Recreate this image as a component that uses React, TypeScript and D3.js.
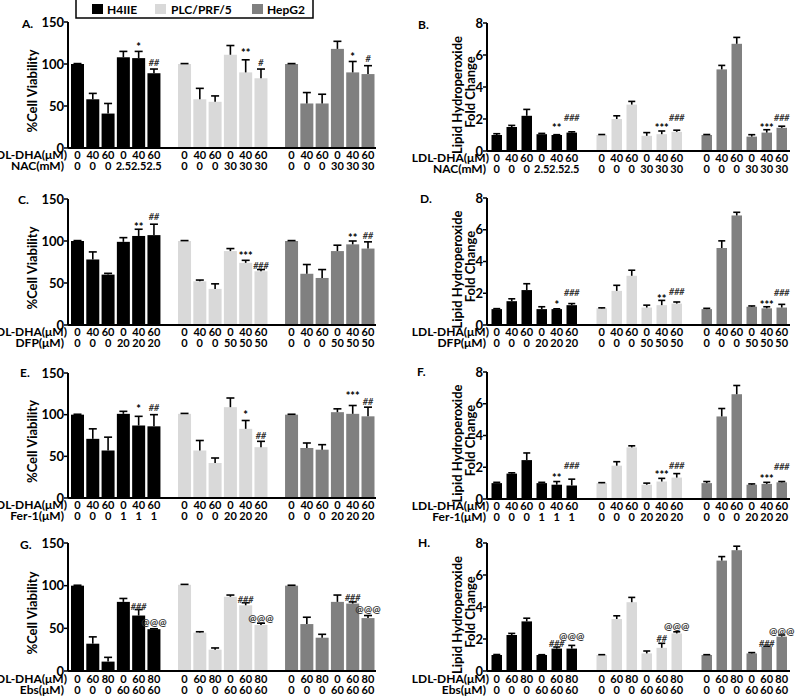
import React from "react";
import * as d3 from "d3";

// ---------- data ----------
const cellLines = ["H4IIE", "PLC/PRF/5", "HepG2"];
const cellColors = ["#000000", "#d9d9d9", "#808080"];
const viabTicks = [0, 50, 100, 150];
const lipidTicks = [0, 2, 4, 6, 8];

const dha4060 = ["0", "40", "60", "0", "40", "60", "0", "40", "60", "0", "40", "60", "0", "40", "60", "0", "40", "60"];
const dha6080 = ["0", "60", "80", "0", "60", "80", "0", "60", "80", "0", "60", "80", "0", "60", "80", "0", "60", "80"];
const nacLabels = ["0", "0", "0", "2.5", "2.5", "2.5", "0", "0", "0", "30", "30", "30", "0", "0", "0", "30", "30", "30"];
const dfpLabels = ["0", "0", "0", "20", "20", "20", "0", "0", "0", "50", "50", "50", "0", "0", "0", "50", "50", "50"];
const ferLabels = ["0", "0", "0", "1", "1", "1", "0", "0", "0", "20", "20", "20", "0", "0", "0", "20", "20", "20"];
const ebsLabels = ["0", "0", "0", "60", "60", "60", "0", "0", "0", "60", "60", "60", "0", "0", "0", "60", "60", "60"];

// Panel A: %Cell viability, NAC
const aMean = [100, 58, 41, 108, 107, 89, 100, 58, 55, 111, 90, 83, 100, 53, 53, 118, 90, 88];
const aErr = [0.5, 7, 12, 7, 8, 5, 0.5, 13, 7, 11, 15, 11, 0.5, 13, 11, 9, 13, 10];
const aNotes: [number, string, number][] = [[4, "*", 124], [5, "##", 101], [10, "**", 116], [11, "#", 102], [16, "*", 112], [17, "#", 106]];
// Panel B: lipid hydroperoxide, NAC
const bMean = [1.0, 1.5, 2.2, 1.05, 1.0, 1.15, 1.0, 2.0, 2.9, 0.95, 1.05, 1.2, 1.0, 5.1, 6.7, 0.9, 1.15, 1.45];
const bErr = [0.08, 0.1, 0.4, 0.05, 0.02, 0.05, 0.03, 0.2, 0.2, 0.2, 0.2, 0.1, 0.03, 0.25, 0.4, 0.12, 0.18, 0.1];
const bNotes: [number, string, number][] = [[4, "**", 1.6], [5, "###", 2.05], [10, "***", 1.6], [11, "###", 2.05], [16, "***", 1.6], [17, "###", 2.05]];
// Panel C: viability, DFP
const cMean = [100, 78, 60, 99, 106, 107, 100, 52, 43, 88, 74, 64, 100, 61, 56, 88, 96, 91];
const cErr = [0.5, 9, 1.5, 5, 8, 13, 0.5, 1.5, 6, 3, 3, 2, 0.5, 11, 10, 7, 4, 8];
const cNotes: [number, string, number][] = [[4, "**", 120], [5, "##", 129], [10, "***", 85], [11, "###", 71], [16, "**", 107], [17, "##", 106]];
// Panel D: lipid, DFP
const dMean = [1.0, 1.5, 2.2, 1.0, 1.0, 1.25, 1.05, 2.15, 3.1, 1.1, 1.25, 1.35, 1.0, 4.85, 6.9, 1.15, 1.05, 1.1];
const dErr = [0.03, 0.15, 0.4, 0.15, 0.02, 0.1, 0.03, 0.35, 0.35, 0.15, 0.3, 0.1, 0.05, 0.45, 0.2, 0.05, 0.1, 0.2];
const dNotes: [number, string, number][] = [[4, "*", 1.45], [5, "###", 2.0], [10, "**", 1.8], [11, "###", 2.1], [16, "***", 1.45], [17, "###", 2.0]];
// Panel E: viability, Fer-1
const eMean = [100, 71, 57, 101, 87, 86, 101, 57, 42, 109, 83, 61, 100, 60, 58, 103, 101, 98];
const eErr = [0.5, 12, 16, 3, 11, 14, 0.5, 12, 6, 11, 10, 7, 0.5, 6, 6, 4, 10, 11];
const eNotes: [number, string, number][] = [[4, "*", 110], [5, "##", 108], [10, "*", 103], [11, "##", 75], [16, "***", 126], [17, "##", 116]];
// Panel F: lipid, Fer-1
const fMean = [1.0, 1.6, 2.45, 1.0, 0.9, 0.85, 1.0, 2.1, 3.25, 0.9, 1.1, 1.35, 1.0, 5.2, 6.6, 0.9, 0.95, 1.05];
const fErr = [0.05, 0.05, 0.45, 0.05, 0.2, 0.4, 0.03, 0.25, 0.1, 0.1, 0.2, 0.25, 0.1, 0.5, 0.55, 0.05, 0.1, 0.05];
const fNotes: [number, string, number][] = [[4, "**", 1.5], [5, "###", 2.07], [10, "***", 1.72], [11, "###", 2.07], [16, "***", 1.45], [17, "###", 2.0]];
// Panel G: viability, Ebs
const gMean = [100, 32, 11, 81, 65, 49, 101, 45, 25, 87, 77, 54, 100, 55, 39, 81, 79, 62];
const gErr = [0.5, 8, 5, 4, 7, 0.5, 0.5, 1, 2, 2, 3, 2, 0.5, 8, 4, 8, 2, 3];
const gNotes: [number, string, number][] = [[4, "###", 75], [5, "@@@", 57], [10, "###", 84], [11, "@@@", 62], [16, "###", 86], [17, "@@@", 72]];
// Panel H: lipid, Ebs
const hMean = [1.0, 2.25, 3.1, 1.0, 1.4, 1.4, 1.0, 3.25, 4.3, 1.1, 1.45, 2.35, 1.0, 6.9, 7.55, 1.1, 1.5, 2.15];
const hErr = [0.03, 0.1, 0.2, 0.02, 0.1, 0.2, 0.02, 0.2, 0.3, 0.15, 0.28, 0.1, 0.02, 0.25, 0.25, 0.05, 0.05, 0.1];
const hNotes: [number, string, number][] = [[4, "###", 1.68], [5, "@@@", 2.15], [10, "##", 2.0], [11, "@@@", 2.77], [16, "###", 1.68], [17, "@@@", 2.46]];

// ---------- layout ----------
const FONT = "Lato, 'Liberation Sans', sans-serif";
const MU = "\u03bc";

type PanelCfg = {
  letter: string; kind: "viab" | "lipid"; side: "L" | "R";
  y0: number; yTop: number; mean: number[]; err: number[]; notes: [number, string, number][];
  row1: string[]; row2: string[]; row2Title: string; letterX: number; letterY: number; rowShift: number;
};

const panels: PanelCfg[] = [
  { letter: "A.", kind: "viab", side: "L", y0: 148, yTop: 22, mean: aMean, err: aErr, notes: aNotes, row1: dha4060, row2: nacLabels, row2Title: "NAC(mM)", letterX: 22, letterY: 28, rowShift: 0 },
  { letter: "B.", kind: "lipid", side: "R", y0: 151, yTop: 23, mean: bMean, err: bErr, notes: bNotes, row1: dha4060, row2: nacLabels, row2Title: "NAC(mM)", letterX: 418, letterY: 29, rowShift: 0 },
  { letter: "C.", kind: "viab", side: "L", y0: 325, yTop: 199, mean: cMean, err: cErr, notes: cNotes, row1: dha4060, row2: dfpLabels, row2Title: `DFP(${MU}M)`, letterX: 18, letterY: 204, rowShift: 0 },
  { letter: "D.", kind: "lipid", side: "R", y0: 325, yTop: 198, mean: dMean, err: dErr, notes: dNotes, row1: dha4060, row2: dfpLabels, row2Title: `DFP(${MU}M)`, letterX: 420, letterY: 203, rowShift: 0 },
  { letter: "E.", kind: "viab", side: "L", y0: 498, yTop: 373, mean: eMean, err: eErr, notes: eNotes, row1: dha4060, row2: ferLabels, row2Title: `Fer-1(${MU}M)`, letterX: 20, letterY: 377, rowShift: 0 },
  { letter: "F.", kind: "lipid", side: "R", y0: 499, yTop: 372, mean: fMean, err: fErr, notes: fNotes, row1: dha4060, row2: ferLabels, row2Title: `Fer-1(${MU}M)`, letterX: 417, letterY: 376, rowShift: 0 },
  { letter: "G.", kind: "viab", side: "L", y0: 671, yTop: 543, mean: gMean, err: gErr, notes: gNotes, row1: dha6080, row2: ebsLabels, row2Title: `Ebs(${MU}M)`, letterX: 20, letterY: 549, rowShift: 1 },
  { letter: "H.", kind: "lipid", side: "R", y0: 671, yTop: 543, mean: hMean, err: hErr, notes: hNotes, row1: dha6080, row2: ebsLabels, row2Title: `Ebs(${MU}M)`, letterX: 418, letterY: 547, rowShift: 1 },
];

const slotOf = (i: number) => i + Math.floor(i / 6);

function Panel({ p }: { p: PanelCfg }) {
  const L = p.side === "L";
  const axisX = L ? 68 : 487;
  const xEnd = L ? 376 : 790;
  const x = d3.scaleBand<number>().domain(d3.range(20)).range(L ? [71, 374.5] : [491.5, 787]).paddingInner(L ? 0.15 : 0.3).paddingOuter(0);
  const y = d3.scaleLinear().domain(p.kind === "viab" ? [0, 150] : [0, 8]).range([p.y0, p.yTop]);
  const ticks = p.kind === "viab" ? viabTicks : lipidTicks;
  const bw = x.bandwidth();
  const cap = L ? 8 : 7;
  const labelEnd = L ? 67 : 489;
  const midY = (p.y0 + p.yTop) / 2;
  const r1y = p.y0 + 11 + p.rowShift;
  const r2y = p.y0 + 22 + p.rowShift;
  return (
    <g fontFamily={FONT} fontWeight="bold">
      <text x={p.letterX} y={p.letterY} fontSize={12}>{p.letter}</text>
      {p.mean.map((m, i) => {
        const xx = x(slotOf(i))!;
        return <rect key={"b" + i} x={xx} width={bw} y={y(m)} height={p.y0 - y(m)} fill={cellColors[Math.floor(i / 6)]} />;
      })}
      {p.mean.map((m, i) => {
        const cx = x(slotOf(i))! + bw / 2;
        const top = y(m + p.err[i]);
        return (
          <g key={"e" + i} stroke="#000" strokeWidth={1.6}>
            <line x1={cx} x2={cx} y1={y(m)} y2={top} />
            <line x1={cx - cap / 2} x2={cx + cap / 2} y1={top} y2={top} />
          </g>
        );
      })}
      {p.notes.map(([i, t, v], k) => {
        const cx = x(slotOf(i))! + bw / 2;
        const star = t.startsWith("*");
        const fs = star ? 11 : t.startsWith("@") ? 10 : 9;
        return (
          <text key={"n" + k} x={cx} y={y(v)} dy={star ? "0.62em" : "0.36em"} fontSize={fs} textAnchor="middle" fill={star ? "#000" : "#333"} fontStyle={t.startsWith("#") ? "italic" : "normal"}>{t}</text>
        );
      })}
      <line x1={axisX} x2={axisX} y1={p.yTop} y2={p.y0} stroke="#000" strokeWidth={2} />
      <line x1={axisX} x2={xEnd} y1={p.y0} y2={p.y0} stroke="#000" strokeWidth={2} />
      {ticks.map((t) => (
        <g key={"t" + t}>
          <line x1={axisX - 4} x2={axisX} y1={y(t)} y2={y(t)} stroke="#000" strokeWidth={1.5} />
          <text x={axisX - 4} y={y(t)} dy="0.36em" textAnchor="end" fontSize={13}>{t}</text>
        </g>
      ))}
      {p.kind === "viab" ? (
        <text transform={`translate(32,${midY + 6}) rotate(-90)`} textAnchor="middle" dy="0.36em" fontSize={13}>%Cell Viability</text>
      ) : (
        <g>
          <text transform={`translate(457,${midY + 8}) rotate(-90)`} textAnchor="middle" dy="0.36em" fontSize={13}>Lipid Hydroperoxide</text>
          <text transform={`translate(470,${midY + 5}) rotate(-90)`} textAnchor="middle" dy="0.36em" fontSize={13}>Fold Change</text>
        </g>
      )}
      <text x={labelEnd} y={r1y} textAnchor="end" fontSize={12}>{`LDL-DHA(${MU}M)`}</text>
      <text x={labelEnd - 3} y={r2y} textAnchor="end" fontSize={12}>{p.row2Title}</text>
      {p.row1.map((s, i) => (
        <text key={"r1" + i} x={x(slotOf(i))! + bw / 2} y={r1y} textAnchor="middle" fontSize={11}>{s}</text>
      ))}
      {p.row2.map((s, i) => (
        <text key={"r2" + i} x={x(slotOf(i))! + bw / 2} y={r2y} textAnchor="middle" fontSize={11}>{s}</text>
      ))}
    </g>
  );
}

function Legend() {
  const items = [
    { x: 92, tx: 107 },
    { x: 155, tx: 171 },
    { x: 252, tx: 267 },
  ];
  return (
    <g fontFamily={FONT} fontWeight="bold">
      <rect x={76} y={-1} width={237} height={19} fill="#fff" stroke="#000" strokeWidth={1.5} />
      {cellLines.map((c, i) => (
        <g key={c}>
          <rect x={items[i].x} y={4} width={11} height={10} fill={cellColors[i]} />
          <text x={items[i].tx} y={13.5} fontSize={12}>{c}</text>
        </g>
      ))}
    </g>
  );
}

export default function App() {
  return (
    <svg width={800} height={697} style={{ position: "absolute", left: 0, top: 0, background: "#fff" }}>
      <rect width={800} height={697} fill="#fff" />
      {panels.map((p) => (
        <Panel key={p.letter} p={p} />
      ))}
      <Legend />
    </svg>
  );
}
